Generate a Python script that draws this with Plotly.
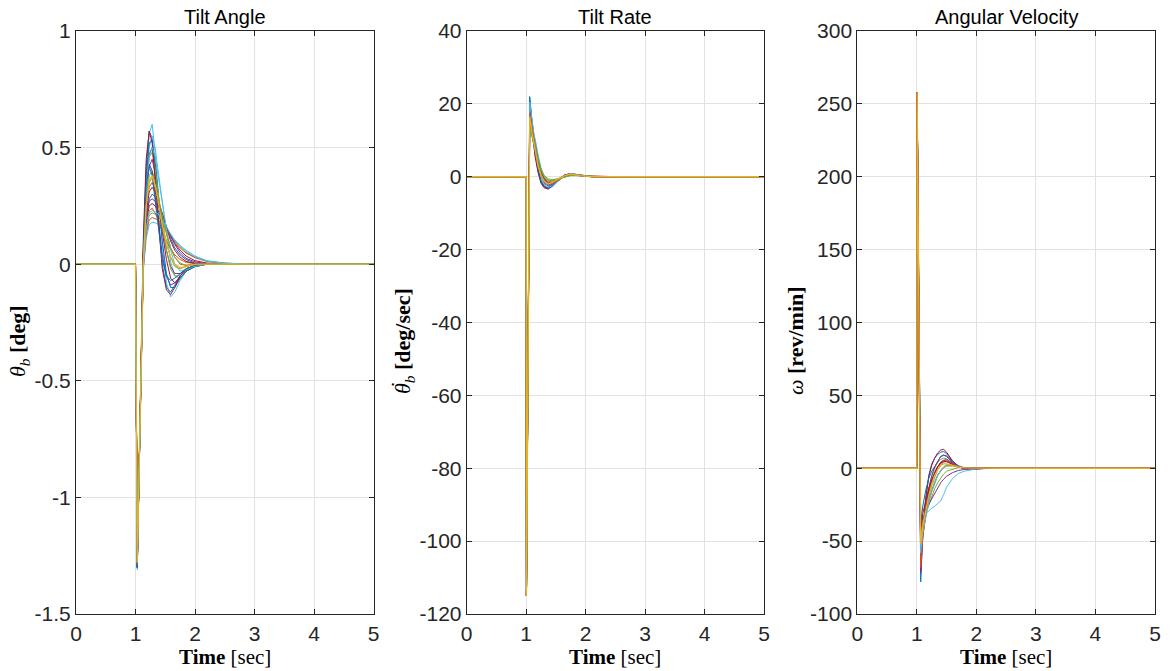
import plotly.graph_objects as go

# ---------------- data ----------------
TITLES = ["Tilt Angle", "Tilt Rate", "Angular Velocity"]

X_TICKS = [0, 1, 2, 3, 4, 5]
X_TICK_TEXT = ["0", "1", "2", "3", "4", "5"]

ANGLE_TICKS = [-1.5, -1, -0.5, 0, 0.5, 1]
ANGLE_TICK_TEXT = ["-1.5", "-1", "-0.5", "0", "0.5", "1"]
RATE_TICKS = [-120, -100, -80, -60, -40, -20, 0, 20, 40]
RATE_TICK_TEXT = ["-120", "-100", "-80", "-60", "-40", "-20", "0", "20", "40"]
OMEGA_TICKS = [-100, -50, 0, 50, 100, 150, 200, 250, 300]
OMEGA_TICK_TEXT = ["-100", "-50", "0", "50", "100", "150", "200", "250", "300"]

# Tilt angle [deg]
T_ANGLE = [0.0, 1.0, 1.03, 1.08, 1.13, 1.18, 1.23, 1.28, 1.33, 1.38, 1.45, 1.52, 1.59, 1.66, 1.75, 1.85, 2.0, 2.2, 2.5, 3.0, 5.0]
ANGLE_A = [0, 0, -1.31, -0.62, 0.02, 0.36, 0.56, 0.60, 0.48, 0.32, 0.08, -0.08, -0.14, -0.12, -0.07, -0.03, -0.01, 0, 0, 0, 0]
ANGLE_B = [0, 0, -1.30, -0.58, 0.06, 0.42, 0.57, 0.54, 0.38, 0.20, 0.00, -0.10, -0.12, -0.09, -0.05, -0.02, -0.005, 0, 0, 0, 0]
ANGLE_C = [0, 0, -1.29, -0.66, -0.04, 0.30, 0.50, 0.55, 0.50, 0.40, 0.27, 0.12, 0.01, -0.05, -0.06, -0.03, -0.01, 0, 0, 0, 0]
ANGLE_D = [0, 0, -1.28, -0.63, 0.00, 0.32, 0.47, 0.50, 0.42, 0.30, 0.14, 0.02, -0.06, -0.08, -0.06, -0.03, -0.01, 0, 0, 0, 0]
ANGLE_E = [0, 0, -1.29, -0.64, -0.01, 0.28, 0.42, 0.45, 0.39, 0.29, 0.16, 0.06, -0.01, -0.04, -0.04, -0.02, -0.005, 0, 0, 0, 0]
ANGLE_F = [0, 0, -1.28, -0.62, 0.00, 0.26, 0.38, 0.40, 0.36, 0.28, 0.18, 0.09, 0.03, -0.01, -0.02, -0.01, 0, 0, 0, 0, 0]
ANGLE_G = [0, 0, -1.27, -0.61, 0.02, 0.24, 0.33, 0.35, 0.32, 0.27, 0.20, 0.13, 0.07, 0.03, 0.00, -0.005, 0, 0, 0, 0, 0]
ANGLE_H = [0, 0, -1.28, -0.62, 0.00, 0.20, 0.28, 0.30, 0.29, 0.27, 0.22, 0.16, 0.11, 0.07, 0.04, 0.02, 0.005, 0, 0, 0, 0]
ANGLE_I = [0, 0, -1.27, -0.60, 0.01, 0.18, 0.25, 0.26, 0.25, 0.23, 0.20, 0.16, 0.12, 0.09, 0.06, 0.035, 0.015, 0.005, 0, 0, 0]
ANGLE_J = [0, 0, -1.28, -0.63, -0.02, 0.14, 0.21, 0.22, 0.215, 0.205, 0.18, 0.15, 0.125, 0.10, 0.075, 0.05, 0.03, 0.012, 0.004, 0, 0]
ANGLE_K = [0, 0, -1.27, -0.62, -0.03, 0.11, 0.17, 0.18, 0.178, 0.17, 0.16, 0.14, 0.12, 0.10, 0.08, 0.06, 0.035, 0.015, 0.005, 0, 0]
ANGLE_L = [0, 0, -1.28, -0.61, 0.00, 0.16, 0.23, 0.24, 0.22, 0.19, 0.14, 0.10, 0.065, 0.04, 0.02, 0.008, 0.002, 0, 0, 0, 0]
ANGLE_M = [0, 0, -1.30, -0.60, 0.04, 0.33, 0.43, 0.40, 0.30, 0.18, 0.04, -0.05, -0.09, -0.08, -0.05, -0.02, -0.005, 0, 0, 0, 0]
ANGLE_O = [0, 0, -1.30, -0.60, 0.04, 0.38, 0.52, 0.53, 0.44, 0.30, 0.10, -0.04, -0.10, -0.10, -0.06, -0.03, -0.01, 0, 0, 0, 0]
ANGLE_P = [0, 0, -1.29, -0.62, 0.01, 0.33, 0.46, 0.48, 0.41, 0.31, 0.17, 0.06, -0.02, -0.05, -0.05, -0.025, -0.008, 0, 0, 0, 0]
ANGLE_Q = [0, 0, -1.28, -0.62, 0.00, 0.22, 0.31, 0.33, 0.31, 0.27, 0.21, 0.15, 0.10, 0.06, 0.03, 0.012, 0.003, 0, 0, 0, 0]
ANGLE_R = [0, 0, -1.27, -0.62, -0.02, 0.13, 0.19, 0.20, 0.195, 0.19, 0.17, 0.145, 0.12, 0.095, 0.07, 0.048, 0.028, 0.012, 0.004, 0, 0]
ANGLE_S = [0, 0, -1.28, -0.61, 0.01, 0.19, 0.27, 0.28, 0.27, 0.25, 0.21, 0.16, 0.12, 0.085, 0.05, 0.025, 0.01, 0.002, 0, 0, 0]
ANGLE_T = [0, 0, -1.30, -0.55, 0.10, 0.45, 0.57, 0.52, 0.36, 0.18, -0.02, -0.11, -0.13, -0.10, -0.05, -0.02, -0.005, 0, 0, 0, 0]
ANGLE_U = [0, 0, -1.29, -0.64, -0.02, 0.30, 0.46, 0.50, 0.46, 0.38, 0.26, 0.15, 0.06, 0.00, -0.03, -0.02, -0.008, 0, 0, 0, 0]
ANGLE_V = [0, 0, -1.30, -0.59, 0.05, 0.34, 0.42, 0.38, 0.27, 0.15, 0.02, -0.05, -0.07, -0.06, -0.04, -0.02, -0.005, 0, 0, 0, 0]
ANGLE_W = [0, 0, -1.28, -0.62, 0.01, 0.25, 0.35, 0.37, 0.34, 0.29, 0.21, 0.13, 0.07, 0.03, 0.005, -0.005, -0.003, 0, 0, 0, 0]
ANGLE_X = [0, 0, -1.27, -0.62, -0.01, 0.15, 0.22, 0.23, 0.225, 0.215, 0.19, 0.16, 0.13, 0.105, 0.08, 0.055, 0.032, 0.013, 0.004, 0, 0]
ANGLE_N = [0, 0, -1.28, -0.63, 0.00, 0.25, 0.36, 0.38, 0.34, 0.27, 0.17, 0.09, 0.03, 0.00, -0.015, -0.01, 0, 0, 0, 0, 0]

# Tilt rate [deg/sec]
T_RATE = [0.0, 1.0, 1.005, 1.06, 1.1, 1.15, 1.2, 1.25, 1.3, 1.37, 1.45, 1.55, 1.65, 1.75, 1.9, 2.1, 2.5, 5.0]
RATE_A = [0, 0, -115, 22, 15, 8, 2.5, -1, -2.5, -3.3, -2.6, -1.0, 0.4, 0.9, 0.4, 0.05, 0, 0]
RATE_B = [0, 0, -115, 20, 14, 6.5, 1.5, -1.5, -2.8, -3.0, -2.0, -0.6, 0.5, 0.8, 0.3, 0, 0, 0]
RATE_C = [0, 0, -115, 18.5, 14, 9.5, 4.5, 1.2, -0.8, -2.2, -2.0, -1.0, 0.2, 0.8, 0.5, 0.1, 0, 0]
RATE_D = [0, 0, -115, 17, 12.5, 7, 2.8, 0.2, -1.4, -2.3, -1.6, -0.5, 0.4, 0.7, 0.3, 0.05, 0, 0]
RATE_E = [0, 0, -115, 16, 13, 10, 5.5, 2, -0.2, -1.6, -1.5, -0.7, 0.2, 0.6, 0.4, 0.05, 0, 0]
RATE_F = [0, 0, -115, 15, 12, 8, 4, 1.3, -0.3, -1.3, -1.2, -0.6, 0.1, 0.5, 0.4, 0.1, 0, 0]
RATE_G = [0, 0, -115, 14, 12, 10.5, 6, 2.5, 0.3, -0.9, -1.0, -0.5, 0.1, 0.4, 0.3, 0.1, 0, 0]
RATE_H = [0, 0, -115, 13, 11.5, 9, 5, 2, 0.4, -0.6, -0.8, -0.5, 0, 0.3, 0.3, 0.1, 0, 0]
RATE_I = [0, 0, -115, 19, 12.5, 5.5, 1.2, -1.8, -3.0, -3.4, -2.3, -0.8, 0.5, 0.9, 0.3, 0, 0, 0]
RATE_J = [0, 0, -115, 21, 14.5, 7, 2, -1.2, -2.6, -3.1, -2.3, -0.9, 0.3, 0.8, 0.4, 0.05, 0, 0]
RATE_L = [0, 0, -115, 18, 13, 7.5, 3, 0, -1.8, -2.6, -2.0, -0.8, 0.3, 0.8, 0.4, 0.05, 0, 0]
RATE_M = [0, 0, -115, 15.5, 12.5, 9, 4.5, 1.5, -0.5, -1.8, -1.6, -0.7, 0.2, 0.6, 0.4, 0.05, 0, 0]
RATE_N = [0, 0, -115, 14.5, 11, 7.5, 3.5, 1, -0.8, -1.9, -1.5, -0.6, 0.2, 0.6, 0.3, 0.05, 0, 0]
RATE_O = [0, 0, -115, 20.5, 15.5, 9, 3.5, 0, -2, -2.9, -2.4, -1.0, 0.3, 0.9, 0.5, 0.05, 0, 0]
RATE_P = [0, 0, -115, 17.5, 13.5, 8.5, 4, 1, -1, -2, -1.8, -0.8, 0.2, 0.7, 0.4, 0.05, 0, 0]
RATE_Q = [0, 0, -115, 13.5, 11, 8, 4.5, 1.8, 0, -1.0, -1.1, -0.6, 0, 0.4, 0.3, 0.1, 0, 0]
RATE_K = [0, 0, -115, 16.5, 12, 7, 3, 0.4, -1.2, -2.0, -1.5, -0.5, 0.3, 0.7, 0.3, 0.05, 0, 0]

# Angular velocity [rev/min]
T_OMEGA = [0.0, 1.0, 1.005, 1.065, 1.1, 1.15, 1.2, 1.25, 1.3, 1.35, 1.4, 1.45, 1.5, 1.6, 1.7, 1.8, 2.0, 2.2, 2.5, 5.0]
OMEGA_A = [0, 0, 258, -78, -45, -22, -5, 3, 7, 9.5, 11, 11.5, 10, 5, 1.5, 0, -0.5, 0, 0, 0]
OMEGA_B = [0, 0, 258, -70, -42, -20, -6, 2, 7, 10.5, 12.5, 13, 11, 5, 1, -0.5, -0.3, 0, 0, 0]
OMEGA_C = [0, 0, 258, -60, -40, -26, -14, -6, 0, 4, 6, 7, 6.5, 3.5, 1, 0, 0, 0, 0, 0]
OMEGA_D = [0, 0, 258, -55, -41, -30, -20, -12, -6, -1, 2, 4, 4.5, 3, 1.5, 0.5, 0, 0, 0, 0]
OMEGA_E = [0, 0, 258, -50, -40, -31, -23, -16, -10, -5, -2, 0.5, 2, 2, 1, 0.3, 0, 0, 0, 0]
OMEGA_F = [0, 0, 258, -45, -37, -31, -25, -19, -14, -10, -6.5, -4, -2, -0.5, 0.5, 0.5, 0, 0, 0, 0]
OMEGA_G = [0, 0, 258, -40, -34, -29, -25, -21, -17, -13, -10, -7.5, -5.5, -3, -1.5, -0.8, -0.2, 0, 0, 0]
OMEGA_H = [0, 0, 258, -35, -33, -31, -29, -27.5, -26, -24.5, -22.5, -18, -13, -7, -3.5, -2, -0.5, 0, 0, 0]
OMEGA_I = [0, 0, 258, -65, -46, -30, -18, -9, -3, 1, 4, 5.5, 6, 3.5, 1, 0, 0, 0, 0, 0]
OMEGA_J = [0, 0, 258, -38, -26, -15, -7, -2, 1, 5, 8, 9, 8, 4, 1, 0, -0.3, 0, 0, 0]
OMEGA_L = [0, 0, 258, -72, -48, -28, -14, -5, 1, 5, 8, 9, 8.5, 4.5, 1.5, 0, -0.3, 0, 0, 0]
OMEGA_M = [0, 0, 258, -62, -43, -29, -17, -9, -3, 1, 3.5, 5, 5, 3, 1, 0.2, 0, 0, 0, 0]
OMEGA_N = [0, 0, 258, -47, -38, -30, -22, -15, -9, -4.5, -1.5, 0.5, 1.5, 1.5, 0.8, 0.2, 0, 0, 0, 0]
OMEGA_O = [0, 0, 258, -68, -47, -31, -19, -10, -4, 0.5, 3, 4.5, 5, 3, 1.2, 0.2, 0, 0, 0, 0]
OMEGA_P = [0, 0, 258, -58, -44, -33, -24, -16, -10, -5, -1.5, 1, 2.5, 2.5, 1.2, 0.3, 0, 0, 0, 0]
OMEGA_Q = [0, 0, 258, -42, -31, -22, -14, -8, -3, 1, 4, 5, 4.5, 2.5, 0.8, 0, 0, 0, 0, 0]
OMEGA_K = [0, 0, 258, -52, -40, -29, -19, -11, -5, -1, 2, 3, 3, 2, 0.8, 0.2, 0, 0, 0, 0]

# ---------------- styling ----------------
BLUE, ORANGE, YELLOW, PURPLE, GREEN, CYAN, RED = (
    "#0072BD", "#D95319", "#EDB120", "#7E2F8E", "#77AC30", "#4DBEEE", "#A2142F")

angle_series = [(ANGLE_A, CYAN), (ANGLE_B, BLUE), (ANGLE_C, CYAN), (ANGLE_D, RED),
                (ANGLE_E, PURPLE), (ANGLE_F, GREEN), (ANGLE_G, ORANGE), (ANGLE_H, BLUE),
                (ANGLE_I, RED), (ANGLE_J, GREEN), (ANGLE_K, CYAN), (ANGLE_L, ORANGE),
                (ANGLE_M, PURPLE), (ANGLE_O, BLUE), (ANGLE_P, GREEN), (ANGLE_Q, RED),
                (ANGLE_R, ORANGE), (ANGLE_S, PURPLE), (ANGLE_T, RED), (ANGLE_U, CYAN),
                (ANGLE_V, BLUE), (ANGLE_W, GREEN), (ANGLE_X, CYAN), (ANGLE_N, YELLOW)]
rate_series = [(RATE_A, BLUE), (RATE_B, RED), (RATE_C, CYAN), (RATE_D, PURPLE),
               (RATE_E, GREEN), (RATE_F, ORANGE), (RATE_G, CYAN), (RATE_H, GREEN),
               (RATE_I, RED), (RATE_J, BLUE), (RATE_L, PURPLE), (RATE_M, RED),
               (RATE_N, BLUE), (RATE_O, CYAN), (RATE_P, ORANGE), (RATE_Q, GREEN),
               (RATE_K, YELLOW)]
omega_series = [(OMEGA_A, BLUE), (OMEGA_B, RED), (OMEGA_C, GREEN), (OMEGA_D, CYAN),
                (OMEGA_E, ORANGE), (OMEGA_F, GREEN), (OMEGA_G, PURPLE), (OMEGA_H, CYAN),
                (OMEGA_I, PURPLE), (OMEGA_J, BLUE), (OMEGA_L, PURPLE), (OMEGA_M, RED),
                (OMEGA_N, GREEN), (OMEGA_O, ORANGE), (OMEGA_P, CYAN), (OMEGA_Q, RED),
                (OMEGA_K, YELLOW)]

W, H = 1170, 671
panels = [
    dict(t=T_ANGLE, series=angle_series, x0=76, x1=373.5, yr=[-1.5, 1],
         tv=ANGLE_TICKS, tt=ANGLE_TICK_TEXT,
         ylab="<i>θ</i><sub><i>b</i></sub> <b>[deg]</b>", ylx=19),
    dict(t=T_RATE, series=rate_series, x0=466.7, x1=764, yr=[-120, 40],
         tv=RATE_TICKS, tt=RATE_TICK_TEXT,
         ylab="<i>θ</i><sub><i>b</i></sub> <b>[deg/sec]</b>", ylx=404),
    dict(t=T_OMEGA, series=omega_series, x0=857.3, x1=1155, yr=[-100, 300],
         tv=OMEGA_TICKS, tt=OMEGA_TICK_TEXT,
         ylab="<i>ω</i> <b>[rev/min]</b>", ylx=795),
]
Y_TOP, Y_BOT = 31, 614

fig = go.Figure()
TICK_FONT = dict(family="Liberation Sans, Arial, sans-serif", size=21, color="#262626")
SERIF = "Liberation Serif, Times New Roman, serif"
annotations = []

for i, p in enumerate(panels):
    n = "" if i == 0 else str(i + 1)
    for vals, col in p["series"]:
        fig.add_trace(go.Scatter(x=p["t"], y=vals, mode="lines",
                                 line=dict(color=col, width=1.3 if col == YELLOW else 1),
                                 xaxis="x" + n, yaxis="y" + n,
                                 showlegend=False, hoverinfo="skip"))
    common = dict(showline=True, linecolor="#262626", linewidth=1, mirror="ticks",
                  ticks="inside", ticklen=5, tickcolor="#262626", tickwidth=1,
                  showgrid=True, gridcolor="#E2E2E2", gridwidth=1, zeroline=False,
                  automargin=False, tickfont=TICK_FONT)
    fig.update_layout(**{
        "xaxis" + n: dict(domain=[p["x0"] / W, p["x1"] / W], range=[0, 5],
                          tickvals=X_TICKS, ticktext=X_TICK_TEXT,
                          anchor="y" + n, ticklabelstandoff=1, **common),
        "yaxis" + n: dict(domain=[1 - Y_BOT / H, 1 - Y_TOP / H], range=p["yr"],
                          tickvals=p["tv"], ticktext=p["tt"],
                          anchor="x" + n, ticklabelstandoff=0, **common),
    })
    cx = (p["x0"] + p["x1"]) / 2 / W
    annotations.append(dict(text=TITLES[i], x=cx, y=1 - 17 / H, xref="paper", yref="paper",
                            xanchor="center", yanchor="middle", showarrow=False,
                            font=dict(family="Liberation Sans, Arial, sans-serif", size=20, color="#000000")))
    annotations.append(dict(text="<b>Time</b> [sec]", x=cx, y=1 - 657 / H, xref="paper", yref="paper",
                            xanchor="center", yanchor="middle", showarrow=False,
                            font=dict(family=SERIF, size=21, color="#000000")))
    annotations.append(dict(text=p["ylab"], x=p["ylx"] / W, y=1 - 341 / H, xref="paper", yref="paper",
                            xanchor="center", yanchor="middle", showarrow=False, textangle=-90,
                            font=dict(family=SERIF, size=22, color="#000000")))

# dot accent over theta in the tilt-rate label
annotations.append(dict(text="˙", x=398 / W, y=1 - 385 / H, xref="paper", yref="paper",
                        xanchor="center", yanchor="middle", showarrow=False, textangle=-90,
                        font=dict(family=SERIF, size=22, color="#000000")))

fig.update_layout(width=W, height=H, margin=dict(l=0, r=0, t=0, b=0, autoexpand=False),
                  paper_bgcolor="white", plot_bgcolor="white",
                  annotations=annotations, showlegend=False)

fig.write_html("out.html")
